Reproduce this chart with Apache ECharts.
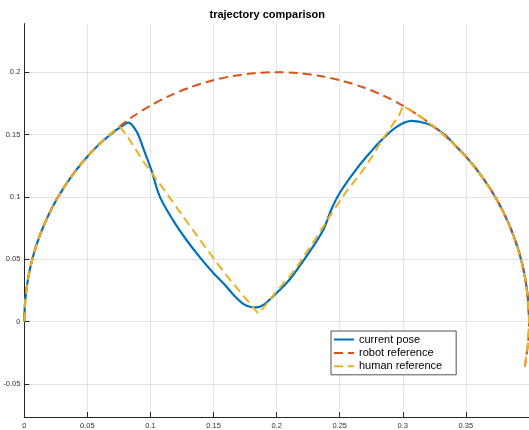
<!DOCTYPE html>
<html>
<head>
<meta charset="utf-8">
<script src="https://cdn.jsdelivr.net/npm/echarts@6/dist/echarts.min.js"></script>
<style>
html,body{margin:0;padding:0;background:#fff;}
#chart{width:529px;height:430px;}
</style>
</head>
<body>
<div id="chart"></div>
<script>
// ---- data ----
const titleText = 'trajectory comparison';
const seriesNames = ['current pose', 'robot reference', 'human reference'];

// robot reference (half circle, continuing slightly below zero at the right end)
const robotX = [0, 0.00076, 0.00304, 0.00681, 0.01206, 0.01874, 0.02679, 0.03617, 0.04679, 0.05858,
  0.07144, 0.08528, 0.1, 0.11548, 0.1316, 0.14824, 0.16527, 0.18257, 0.2, 0.21743,
  0.23473, 0.25176, 0.2684, 0.28452, 0.3, 0.31472, 0.32856, 0.34142, 0.35321, 0.36383,
  0.37321, 0.38126, 0.38794, 0.39319, 0.39696, 0.39924, 0.4, 0.39924, 0.39671];
const robotY = [0, 0.01743, 0.03473, 0.05176, 0.0684, 0.08452, 0.1, 0.11472, 0.12856, 0.14142,
  0.15321, 0.16383, 0.17321, 0.18126, 0.18794, 0.19319, 0.19696, 0.19924, 0.2, 0.19924,
  0.19696, 0.19319, 0.18794, 0.18126, 0.17321, 0.16383, 0.15321, 0.14142, 0.12856, 0.11472,
  0.1, 0.08452, 0.0684, 0.05176, 0.03473, 0.01743, 0, -0.01743, -0.0361];

// current pose
const poseX = [0, 0.00076, 0.00304, 0.00681, 0.01206, 0.01874, 0.02679, 0.03617, 0.04679, 0.05858,
  0.0714, 0.0775, 0.0824, 0.0891, 0.0943, 0.101, 0.1075, 0.1181,
  0.1287, 0.1392, 0.1498, 0.158, 0.1656, 0.1735, 0.1788, 0.184, 0.1895, 0.1973,
  0.2079, 0.2132, 0.2264, 0.2369, 0.2436, 0.2502, 0.2634, 0.2766, 0.2819, 0.2951,
  0.307, 0.3189, 0.327, 0.3347, 0.34142, 0.35321, 0.36383, 0.37321, 0.38126, 0.38794,
  0.39319, 0.39696, 0.39924, 0.3999];
const poseY = [0, 0.01743, 0.03473, 0.05176, 0.0684, 0.08452, 0.1, 0.11472, 0.12856, 0.14142,
  0.1525, 0.1568, 0.1596, 0.1522, 0.139, 0.1206, 0.1, 0.081,
  0.0652, 0.0515, 0.039, 0.0305, 0.0217, 0.0142, 0.0118, 0.0113, 0.0133, 0.0203,
  0.0309, 0.0375, 0.0565, 0.0735, 0.0905, 0.1035, 0.1225, 0.1385, 0.1443, 0.1562,
  0.1609, 0.1588, 0.1545, 0.1485, 0.14142, 0.12856, 0.11472, 0.1, 0.08452, 0.0684,
  0.05176, 0.03473, 0.01743, 0.005];

// human reference: middle part (between the two arc sections)
const humanMidX = [0.0758, 0.0811, 0.0943, 0.1115, 0.1273, 0.1432, 0.159, 0.1725, 0.1854,
  0.1907, 0.1993, 0.2092, 0.2171, 0.2317, 0.2449, 0.2555, 0.266, 0.2766, 0.2819, 0.2898, 0.2977];
const humanMidY = [0.1562, 0.1495, 0.1285, 0.1047, 0.0823, 0.06, 0.0385, 0.022, 0.0065,
  0.0124, 0.0236, 0.0348, 0.0454, 0.0678, 0.0889, 0.1047, 0.1179, 0.1337, 0.143, 0.1548, 0.1667];
const humanArcStartEnd = 10;  // arc index where human leaves the circle (inclusive)
const humanArcRejoin = 24;    // arc index where human rejoins the circle

const xTickMin = 0, xTickMax = 0.4, xTickStep = 0.05;
const yMin = -0.0766, yMax = 0.239;

// ---- build series ----
function pairs(xs, ys) { return xs.map((x, i) => [x, ys[i]]); }
const robotData = pairs(robotX, robotY);
const poseData = pairs(poseX, poseY);
const humanData = robotData.slice(0, humanArcStartEnd + 1)
  .concat(pairs(humanMidX, humanMidY))
  .concat(robotData.slice(humanArcRejoin));

const FONT = 'Liberation Sans, Arial, Helvetica, sans-serif';
const chart = echarts.init(document.getElementById('chart'), null, {renderer: 'canvas'});
const axisCommon = {
  axisLine: {onZero: false, lineStyle: {color: '#262626', width: 1}},
  axisTick: {inside: true, length: 5, lineStyle: {color: '#262626', width: 1}},
  splitLine: {show: true, showMinLine: false, showMaxLine: false, lineStyle: {color: '#e3e3e3', width: 1}},
  axisLabel: {fontFamily: FONT, fontSize: 7.5, color: '#333', showMinLabel: false, showMaxLabel: false}
};
chart.setOption({
  animation: false,
  backgroundColor: '#fff',
  title: {
    text: titleText, left: 209.5, top: 9, padding: 0,
    textStyle: {fontFamily: FONT, fontSize: 11, fontWeight: 'bold', color: '#000'}
  },
  grid: {left: 24.3, right: 0, top: 23.6, bottom: 7.5, containLabel: false},
  xAxis: Object.assign({}, axisCommon, {
    type: 'value', min: xTickMin, max: xTickMax, interval: xTickStep,
    axisLabel: Object.assign({}, axisCommon.axisLabel, {margin: 5, showMinLabel: true})
  }),
  yAxis: Object.assign({}, axisCommon, {
    type: 'value', min: yMin, max: yMax, splitNumber: 5,
    axisLabel: Object.assign({}, axisCommon.axisLabel, {margin: 4})
  }),
  legend: {
    orient: 'vertical', left: 331, top: 331,
    backgroundColor: '#fff', borderColor: '#262626', borderWidth: 0.8,
    padding: [2, 14, 2, 2], itemWidth: 20, itemHeight: 13, itemGap: 0.4,
    itemStyle: {opacity: 0, borderWidth: 0},
    textStyle: {fontFamily: FONT, fontSize: 11, color: '#000', lineHeight: 13},
    data: seriesNames
  },
  series: [
    {name: seriesNames[0], type: 'line', data: poseData, showSymbol: false, symbol: 'none', smooth: 0.35,
     lineStyle: {color: '#0072BD', width: 2.2}, itemStyle: {color: '#0072BD'}},
    {name: seriesNames[1], type: 'line', data: robotData, showSymbol: false, symbol: 'none', smooth: 0.3,
     lineStyle: {color: '#D95319', width: 2, type: [9, 5]}, itemStyle: {color: '#D95319'}},
    {name: seriesNames[2], type: 'line', data: humanData, showSymbol: false, symbol: 'none', smooth: false,
     lineStyle: {color: '#EDB120', width: 2, type: [9, 5]}, itemStyle: {color: '#EDB120'}}
  ]
});
</script>
</body>
</html>
